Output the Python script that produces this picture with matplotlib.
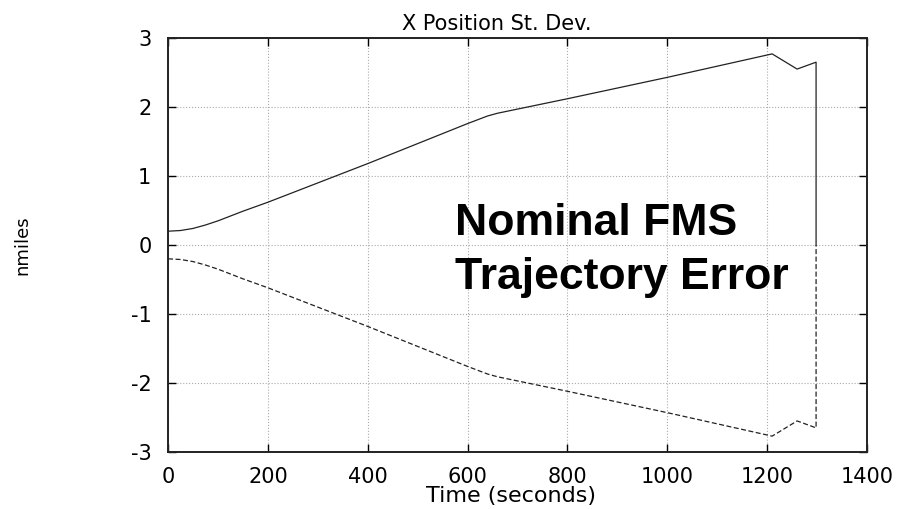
import matplotlib.pyplot as plt

plt.rcParams['font.family'] = ['DejaVu Sans']
plt.rcParams['axes.unicode_minus'] = False

# upper (+1 sigma) curve, seconds vs nmiles
time_s = [0, 25, 50, 75, 100, 125, 150, 200, 300, 400, 500, 600, 640, 660, 800, 1000, 1210, 1260, 1298, 1298]
upper = [0.2, 0.21, 0.24, 0.29, 0.35, 0.42, 0.49, 0.62, 0.9, 1.18, 1.47, 1.76, 1.87, 1.91, 2.12, 2.43, 2.77, 2.55, 2.65, 0.0]
lower = [-v for v in upper]

fig = plt.figure(figsize=(9.02, 5.09), dpi=100)
ax = fig.add_axes([0.1863, 0.112, 0.7749, 0.8133])

ax.plot(time_s, upper, color='#222222', lw=0.9)
ax.plot(time_s, lower, color='#222222', lw=0.9, ls=(0, (4, 2)))

ax.set_xlim(0, 1400)
ax.set_ylim(-3, 3)
ax.set_xticks(range(0, 1401, 200))
ax.set_yticks(range(-3, 4))
ax.grid(True, color='#aaaaaa', ls=':', lw=0.8)
ax.tick_params(direction='in', top=True, right=True, length=6, width=1,
               labelsize=15)
ax.tick_params(axis='x', pad=11)
ax.tick_params(axis='y', pad=12)
for s in ax.spines.values():
    s.set_linewidth(1.4)
    s.set_color('#222222')

ax.set_title('X Position St. Dev.', fontsize=15, pad=6, x=0.47)
ax.set_xlabel('Time (seconds)', fontsize=16)
ax.xaxis.set_label_coords(0.49, -0.083)
ax.set_ylabel('nmiles', fontsize=13)
ax.yaxis.set_label_coords(-0.196, 0.5)

ax.text(0.411, 0.394, 'Nominal FMS\nTrajectory Error', transform=ax.transAxes,
        family='Liberation Sans', fontsize=32, fontweight='bold',
        linespacing=1.4, va='baseline', ha='left')

fig.savefig('out.png', dpi=100)
